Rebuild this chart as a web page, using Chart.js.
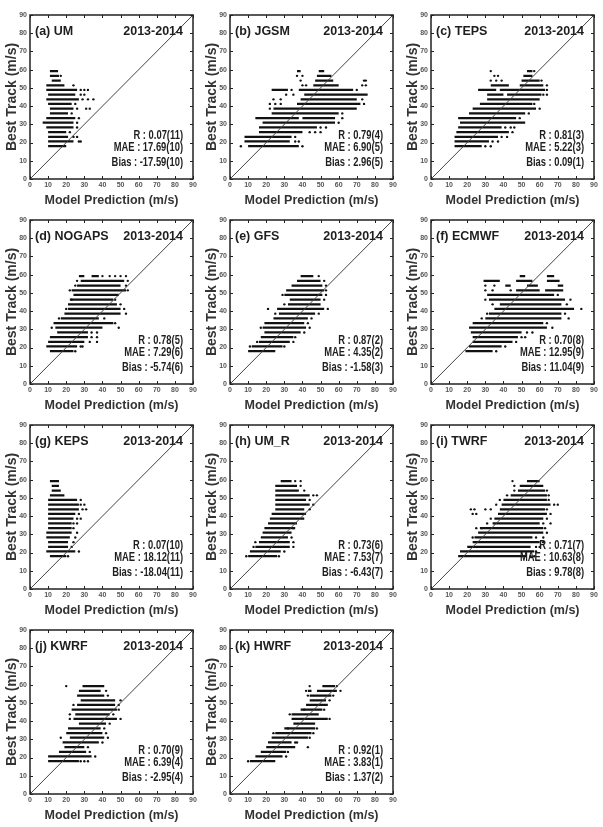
<!DOCTYPE html>
<html>
<head>
<meta charset="utf-8">
<script src="https://cdn.jsdelivr.net/npm/chart.js@4"></script>
<style>
  body { margin: 0; background: #fff; }
  #wrap { position: relative; width: 603px; height: 827px; overflow: hidden; }
  .panel { position: absolute; width: 200px; height: 212px; }
</style>
</head>
<body>
<div id="wrap"></div>
<script>
// Best track rows (m/s) are drawn as [y, xFrom, xTo] runs, loose points as [x, y]
const umSegs = [[59.2,11,15.5],[56.6,11,16],[54,12,17],[51.4,9,19],[48.9,9,26],[46.3,10,25],[43.7,9,27],[41.2,10,23],[38.6,11,24],[36,11,21],[33.4,9,25],[30.9,7,24],[28.3,9,24],[25.7,10,20],[23.1,10,21],[20.6,10,24],[18,10,20]];
const umDots = [[17,56.6],[24,51.4],[28,48.9],[30,48.9],[32,48.9],[28,46.3],[30,46.3],[29,43.7],[32,43.7],[35,43.7],[25,41.2],[26,38.6],[31,38.6],[33,38.6],[23,36],[27,33.4],[26,30.9],[26,28.3],[22,25.7],[24,23.1],[26,23.1],[27,20.6],[28,20.6]];
const umStats = ['R : 0.07(11)', 'MAE : 17.69(10)', 'Bias : -17.59(10)'];

const jgsmSegs = [[59.2,37,39],[59.2,49,52],[56.6,48,56],[54,47,57],[51.4,46,60],[48.9,23,32],[48.9,38,68],[46.3,41,76],[43.7,39,70],[41.2,37,72],[38.6,24,70],[36,23,60],[33.4,14,38],[33.4,40,58],[30.9,18,58],[28.3,16,48],[25.7,16,40],[23.1,8,34],[20.6,8,33],[18,10,38]];
const jgsmDots = [[37,56.6],[40,56.6],[39,54],[74,54],[75,54],[40,51.4],[42,51.4],[73,51.4],[75,51.4],[34,48.9],[70,48.9],[31,46.3],[35,46.3],[24,43.7],[28,43.7],[73,43.7],[22,41.2],[25,41.2],[28,41.2],[74,41.2],[22,38.6],[62,36],[62,33.4],[60,30.9],[50,28.3],[53,28.3],[44,25.7],[47,25.7],[50,25.7],[36,23.1],[36,20.6],[38,20.6],[6,18],[40,18]];
const jgsmStats = ['R : 0.79(4)', 'MAE : 6.90(5)', 'Bias : 2.96(5)'];

const tepsSegs = [[59.2,53,56],[56.6,51,56],[54,50,60],[51.4,33,43],[51.4,49,62],[48.9,26,36],[48.9,38,63],[46.3,31,40],[46.3,42,61],[43.7,31,60],[41.2,27,56],[38.6,23,58],[36,21,52],[33.4,15,47],[30.9,16,52],[28.3,15,39],[25.7,14,43],[23.1,13,37],[20.6,13,32],[18,13,28]];
const tepsDots = [[33,59.2],[57,59.2],[35,56.6],[37,56.6],[33,54],[36,54],[39,54],[61,54],[64,51.4],[64,48.9],[62,46.3],[64,46.3],[57,41.2],[60,38.6],[54,36],[49,33.4],[41,28.3],[44,28.3],[46,28.3],[45,25.7],[39,23.1],[42,23.1],[34,20.6],[37,20.6],[30,18],[33,18]];
const tepsStats = ['R : 0.81(3)', 'MAE : 5.22(3)', 'Bias : 0.09(1)'];

const nogapsSegs = [[59.2,27,30],[59.2,34,38],[56.6,28,52],[54,26,50],[51.4,23,53],[48.9,24,49],[46.3,22,46],[43.7,21,48],[41.2,21,50],[38.6,19,50],[36,17,38],[33.4,13,46],[30.9,14,40],[28.3,15,32],[25.7,11,32],[23.1,10,30],[20.6,9,26],[18,11,24]];
const nogapsDots = [[40,59.2],[44,59.2],[47,59.2],[50,59.2],[53,59.2],[26,56.6],[54,56.6],[25,54],[53,54],[22,51.4],[54,51.4],[23,46.3],[47,46.3],[50,43.7],[52,41.2],[53,38.6],[20,41.2],[16,36],[41,36],[47,33.4],[49,30.9],[12,30.9],[34,28.3],[37,28.3],[34,25.7],[37,25.7],[33,23.1],[37,23.1],[28,20.6],[29,20.6],[25,18]];
const nogapsStats = ['R : 0.78(5)', 'MAE : 7.29(6)', 'Bias : -5.74(6)'];

const gfsSegs = [[59.2,39,46],[56.6,37,50],[54,34,51],[51.4,31,52],[48.9,30,51],[46.3,33,50],[43.7,32,50],[41.2,26,52],[38.6,27,47],[36,24,43],[33.4,19,41],[30.9,18,42],[28.3,19,39],[25.7,17,35],[23.1,16,33],[20.6,12,29],[18,10,25]];
const gfsDots = [[49,59.2],[52,56.6],[53,54],[53,51.4],[29,48.9],[53,48.9],[52,46.3],[30,43.7],[21,41.2],[54,41.2],[25,38.6],[49,38.6],[45,36],[43,33.4],[44,30.9],[17,30.9],[41,28.3],[36,25.7],[15,23.1],[35,23.1],[11,20.6],[30,20.6]];
const gfsStats = ['R : 0.87(2)', 'MAE : 4.35(2)', 'Bias : -1.58(3)'];

const ecmwfSegs = [[59.2,49,52],[59.2,64,68],[56.6,29,38],[56.6,47,56],[56.6,64,71],[54,41,44],[54,53,59],[54,70,73],[51.4,47,60],[51.4,63,73],[48.9,31,68],[46.3,32,74],[43.7,38,72],[41.2,35,79],[38.6,32,72],[36,30,72],[33.4,23,62],[30.9,21,64],[28.3,22,50],[25.7,23,48],[23.1,23,45],[20.6,21,39],[18,19,34]];
const ecmwfDots = [[30,54],[35,54],[30,51.4],[34,51.4],[44,51.4],[70,48.9],[30,46.3],[77,46.3],[34,43.7],[75,43.7],[83,41.2],[31,38.6],[74,38.6],[76,36],[28,36],[64,33.4],[67,30.9],[53,28.3],[56,28.3],[50,25.7],[52,25.7],[47,23.1],[41,20.6],[36,18]];
const ecmwfStats = ['R : 0.70(8)', 'MAE : 12.95(9)', 'Bias : 11.04(9)'];

const kepsSegs = [[59.2,11,16],[56.6,12,16],[54,12,17],[51.4,11,19],[48.9,10,26],[46.3,10,27],[43.7,10,27],[41.2,10,25],[38.6,10,24],[36,10,23],[33.4,10,23],[30.9,9,23],[28.3,9,22],[25.7,10,21],[23.1,10,21],[20.6,9,25],[18,11,20]];
const kepsDots = [[28,48.9],[28,46.3],[30,46.3],[29,43.7],[31,43.7],[27,41.2],[26,38.6],[28,38.6],[24,36],[26,36],[24,33.4],[26,30.9],[25,28.3],[24,25.7],[23,23.1],[27,20.6],[21,18]];
const kepsStats = ['R : 0.07(10)', 'MAE : 18.12(11)', 'Bias : -18.04(11)'];

const umrSegs = [[59.2,28,34],[56.6,25,37],[54,25,38],[51.4,25,44],[48.9,25,42],[46.3,25,44],[43.7,25,41],[41.2,23,42],[38.6,22,41],[36,21,37],[33.4,19,36],[30.9,18,34],[28.3,17,32],[25.7,16,33],[23.1,14,33],[20.6,11,28],[18,10,26]];
const umrDots = [[36,59.2],[39,59.2],[39,56.6],[41,54],[46,51.4],[48,51.4],[44,48.9],[46,46.3],[44,43.7],[35,33.4],[34,28.3],[35,25.7],[14,25.7],[13,23.1],[35,23.1],[30,20.6],[27,18],[9,18]];
const umrStats = ['R : 0.73(6)', 'MAE : 7.53(7)', 'Bias : -6.43(7)'];

const twrfSegs = [[59.2,53,60],[56.6,49,62],[54,48,63],[51.4,44,64],[48.9,40,64],[46.3,39,66],[43.7,38,63],[41.2,37,64],[38.6,35,62],[36,34,60],[33.4,27,62],[30.9,26,62],[28.3,24,56],[25.7,23,60],[23.1,20,55],[20.6,16,57],[18,15,53]];
const twrfDots = [[45,59.2],[46,56.6],[46,54],[64,54],[42,51.4],[65,51.4],[38,48.9],[65,48.9],[36,46.3],[68,46.3],[70,46.3],[22,43.7],[24,43.7],[30,43.7],[33,43.7],[64,43.7],[23,41.2],[25,41.2],[66,41.2],[33,38.6],[64,38.6],[31,36],[62,36],[66,36],[25,33.4],[28,33.4],[63,33.4],[64,30.9],[23,28.3],[58,28.3],[62,28.3],[62,25.7],[58,23.1],[60,23.1],[58,20.6],[55,18],[57,18]];
const twrfStats = ['R : 0.71(7)', 'MAE : 10.63(8)', 'Bias : 9.78(8)'];

const kwrfSegs = [[59.2,29,41],[56.6,27,39],[54,26,41],[51.4,28,47],[48.9,26,47],[46.3,23,48],[43.7,25,44],[41.2,24,48],[38.6,27,42],[36,21,39],[33.4,20,40],[30.9,22,41],[28.3,18,38],[25.7,19,30],[23.1,16,31],[20.6,10,34],[18,10,27]];
const kwrfDots = [[20,59.2],[42,56.6],[43,54],[50,51.4],[49,48.9],[24,48.9],[49,46.3],[22,43.7],[46,43.7],[22,41.2],[50,41.2],[44,38.6],[41,36],[42,33.4],[43,30.9],[17,30.9],[40,28.3],[32,25.7],[33,23.1],[36,20.6],[28,18],[30,18],[32,18]];
const kwrfStats = ['R : 0.70(9)', 'MAE : 6.39(4)', 'Bias : -2.95(4)'];

const hwrfSegs = [[59.2,51,58],[56.6,43,45],[56.6,48,59],[54,44,56],[51.4,44,53],[48.9,42,54],[46.3,39,51],[43.7,34,49],[41.2,34,54],[38.6,35,47],[36,30,47],[33.4,25,45],[30.9,23,43],[28.3,21,34],[25.7,20,36],[23.1,17,31],[20.6,14,29],[18,11,25]];
const hwrfDots = [[44,59.2],[59,59.2],[42,56.6],[61,56.6],[43,54],[57,54],[55,51.4],[41,46.3],[52,46.3],[33,43.7],[55,41.2],[32,36],[48,36],[24,33.4],[46,33.4],[44,30.9],[36,28.3],[37,28.3],[43,25.7],[32,23.1],[31,20.6],[10,18]];
const hwrfStats = ['R : 0.92(1)', 'MAE : 3.83(1)', 'Bias : 1.37(2)'];

const axisTicks = [0, 10, 20, 30, 40, 50, 60, 70, 80, 90];
const period = '2013-2014';

const panels = [
    { label: '(a) UM', segs: umSegs, dots: umDots, stats: umStats },
    { label: '(b) JGSM', segs: jgsmSegs, dots: jgsmDots, stats: jgsmStats },
    { label: '(c) TEPS', segs: tepsSegs, dots: tepsDots, stats: tepsStats },
    { label: '(d) NOGAPS', segs: nogapsSegs, dots: nogapsDots, stats: nogapsStats },
    { label: '(e) GFS', segs: gfsSegs, dots: gfsDots, stats: gfsStats },
    { label: '(f) ECMWF', segs: ecmwfSegs, dots: ecmwfDots, stats: ecmwfStats },
    { label: '(g) KEPS', segs: kepsSegs, dots: kepsDots, stats: kepsStats },
    { label: '(h) UM_R', segs: umrSegs, dots: umrDots, stats: umrStats },
    { label: '(i) TWRF', segs: twrfSegs, dots: twrfDots, stats: twrfStats },
    { label: '(j) KWRF', segs: kwrfSegs, dots: kwrfDots, stats: kwrfStats },
    { label: '(k) HWRF', segs: hwrfSegs, dots: hwrfDots, stats: hwrfStats }
];

const FONT = "'Liberation Sans', Arial, sans-serif";
const colLeft = [0, 200, 401];
const rowTop = [0, 205, 410, 615];

// box, inward ticks and the panel texts
const framePlugin = {
    id: 'frame',
    afterDraw(chart) {
        const ctx = chart.ctx;
        const a = chart.chartArea;
        const xs = chart.scales.x, ys = chart.scales.y;
        const p = chart.options.plugins.frame;
        ctx.save();
        ctx.strokeStyle = '#222';
        ctx.lineWidth = 1;
        axisTicks.forEach(v => {
            const px = Math.round(xs.getPixelForValue(v)) + 0.5;
            const py = Math.round(ys.getPixelForValue(v)) + 0.5;
            ctx.beginPath();
            ctx.moveTo(px, a.bottom); ctx.lineTo(px, a.bottom - 3);
            ctx.moveTo(px, a.top); ctx.lineTo(px, a.top + 3);
            ctx.moveTo(a.left, py); ctx.lineTo(a.left + 3, py);
            ctx.moveTo(a.right, py); ctx.lineTo(a.right - 3, py);
            ctx.stroke();
        });
        ctx.lineWidth = 1.5;
        ctx.strokeRect(a.left, a.top, a.right - a.left, a.bottom - a.top);

        ctx.fillStyle = '#1e1e1e';
        ctx.font = 'bold 12.5px ' + FONT;
        ctx.textBaseline = 'middle';
        ctx.textAlign = 'left';
        ctx.fillText(p.label, a.left + 5, a.top + 17);
        ctx.textAlign = 'right';
        ctx.fillText(period, a.right - 10, a.top + 17);

        // stats are set in a narrow bold face in the original
        ctx.font = 'bold 12.5px ' + FONT;
        const lineY = [121, 133, 147.5];
        p.stats.forEach((s, i) => {
            const w = ctx.measureText(s).width;
            ctx.fillText(s, a.right - 10, a.top + lineY[i], w * 0.75);
        });
        ctx.restore();
    }
};

function buildRuns(segs) {
    const pts = [];
    segs.forEach(s => {
        pts.push({ x: s[1], y: s[0] });
        pts.push({ x: s[2], y: s[0] });
        pts.push({ x: s[2], y: null });
    });
    return pts;
}

panels.forEach((p, i) => {
    const div = document.createElement('div');
    div.className = 'panel';
    div.style.left = colLeft[i % 3] + 'px';
    div.style.top = rowTop[Math.floor(i / 3)] + 'px';
    const canvas = document.createElement('canvas');
    canvas.width = 200;
    canvas.height = 212;
    canvas.style.width = '200px';
    canvas.style.height = '212px';
    div.appendChild(canvas);
    document.getElementById('wrap').appendChild(div);

    new Chart(canvas, {
        type: 'scatter',
        data: {
            datasets: [
                {
                    data: [{ x: 0, y: 0 }, { x: 90, y: 90 }],
                    showLine: true,
                    borderColor: '#444',
                    borderWidth: 1,
                    pointRadius: 0
                },
                {
                    data: buildRuns(p.segs),
                    showLine: true,
                    spanGaps: false,
                    borderColor: '#111',
                    borderWidth: 2.2,
                    borderCapStyle: 'butt',
                    pointRadius: 0
                },
                {
                    data: p.dots.map(d => ({ x: d[0], y: d[1] })),
                    backgroundColor: '#111',
                    borderWidth: 0,
                    pointRadius: 1.2
                }
            ]
        },
        options: {
            responsive: false,
            animation: false,
            events: [],
            layout: { padding: { left: 0, right: 7, top: 15, bottom: 0 } },
            plugins: {
                legend: { display: false },
                tooltip: { enabled: false },
                frame: { label: p.label, stats: p.stats }
            },
            scales: {
                x: {
                    type: 'linear',
                    min: 0, max: 90,
                    afterFit: s => { s.height = 33; },
                    afterBuildTicks: s => { s.ticks = axisTicks.map(v => ({ value: v })); },
                    grid: { display: false, drawTicks: false },
                    border: { display: false },
                    ticks: { padding: 2, color: '#555', font: { size: 7, weight: 'bold', family: FONT }, maxRotation: 0 },
                    title: { display: true, text: 'Model Prediction (m/s)', color: '#333', padding: { top: 0, bottom: 4 }, font: { size: 12.5, weight: 'bold', family: FONT, lineHeight: 1.2 } }
                },
                y: {
                    type: 'linear',
                    min: 0, max: 90,
                    afterFit: s => { s.width = 30; },
                    afterBuildTicks: s => { s.ticks = axisTicks.map(v => ({ value: v })); },
                    grid: { display: false, drawTicks: false },
                    border: { display: false },
                    ticks: { padding: 3, color: '#555', font: { size: 7, weight: 'bold', family: FONT } },
                    title: { display: true, text: 'Best Track (m/s)', color: '#333', padding: { top: 4, bottom: 0 }, font: { size: 14, weight: 'bold', family: FONT, lineHeight: 1.2 } }
                }
            }
        },
        plugins: [framePlugin]
    });
});
</script>
</body>
</html>
